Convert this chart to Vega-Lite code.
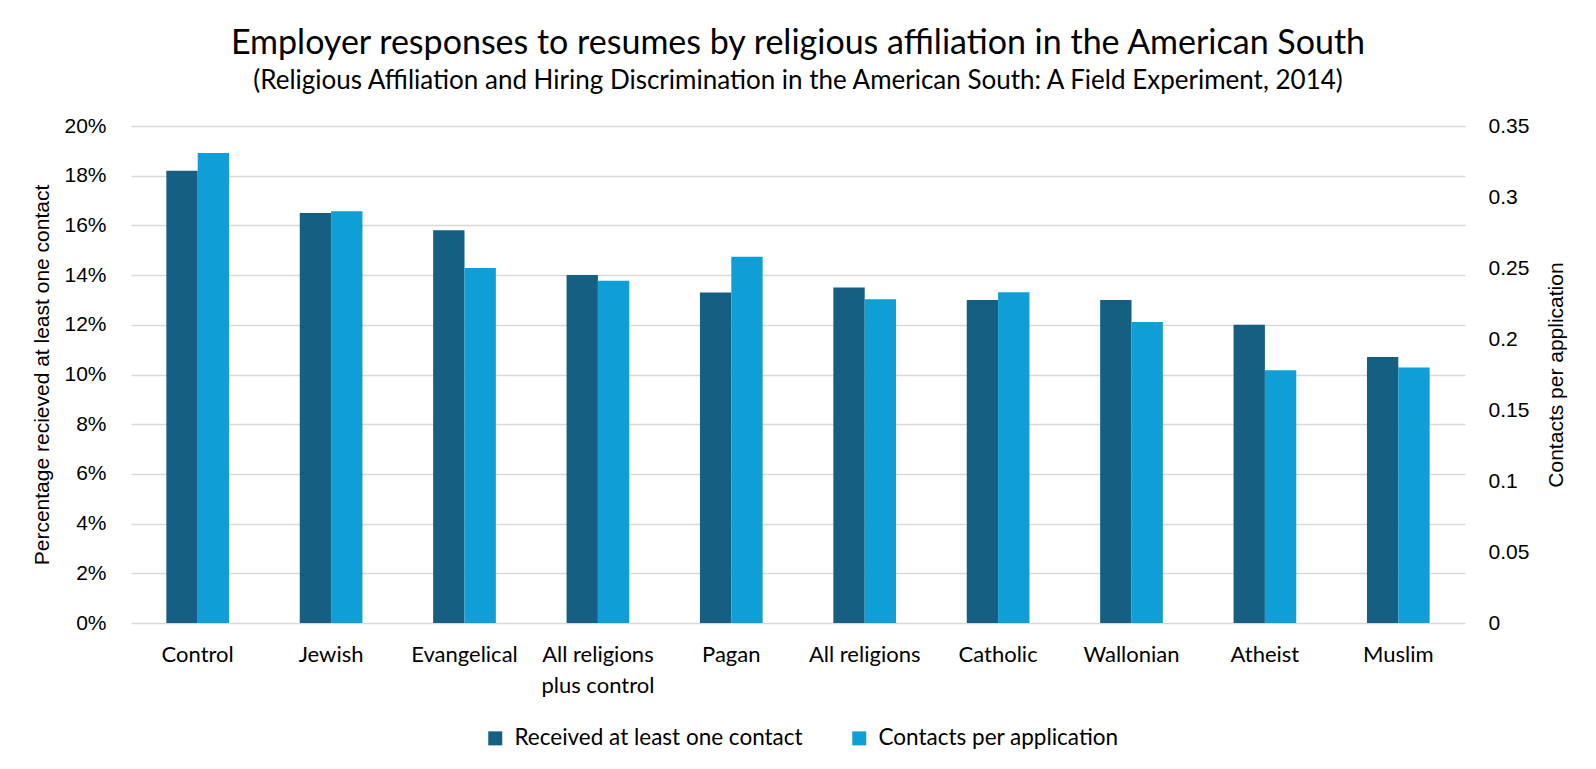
{
  "$schema": "https://vega.github.io/schema/vega-lite/v6.json",
  "width": 1334,
  "height": 497,
  "autosize": "none",
  "padding": {"left": 131, "top": 126, "right": 131, "bottom": 146},
  "background": "white",
  "config": {"view": {"stroke": null}},
  "title": {
    "text": "Employer responses to resumes by religious affiliation in the American South",
    "subtitle": "(Religious Affiliation and Hiring Discrimination in the American South: A Field Experiment, 2014)",
    "font": "Lato",
    "fontSize": 34,
    "fontWeight": "normal",
    "color": "#000000",
    "subtitleFont": "Lato",
    "subtitleFontSize": 26,
    "subtitleColor": "#000000",
    "subtitlePadding": 7,
    "anchor": "middle",
    "frame": "group",
    "offset": 21
  },
  "data": {
    "values": [
      {"religion": "Control", "measure": "Received at least one contact", "value": 0.182},
      {"religion": "Control", "measure": "Contacts per application", "value": 0.331},
      {"religion": "Jewish", "measure": "Received at least one contact", "value": 0.165},
      {"religion": "Jewish", "measure": "Contacts per application", "value": 0.29},
      {"religion": "Evangelical", "measure": "Received at least one contact", "value": 0.158},
      {"religion": "Evangelical", "measure": "Contacts per application", "value": 0.25},
      {"religion": "All religions plus control", "measure": "Received at least one contact", "value": 0.14},
      {"religion": "All religions plus control", "measure": "Contacts per application", "value": 0.241},
      {"religion": "Pagan", "measure": "Received at least one contact", "value": 0.133},
      {"religion": "Pagan", "measure": "Contacts per application", "value": 0.258},
      {"religion": "All religions", "measure": "Received at least one contact", "value": 0.135},
      {"religion": "All religions", "measure": "Contacts per application", "value": 0.228},
      {"religion": "Catholic", "measure": "Received at least one contact", "value": 0.13},
      {"religion": "Catholic", "measure": "Contacts per application", "value": 0.233},
      {"religion": "Wallonian", "measure": "Received at least one contact", "value": 0.13},
      {"religion": "Wallonian", "measure": "Contacts per application", "value": 0.212},
      {"religion": "Atheist", "measure": "Received at least one contact", "value": 0.12},
      {"religion": "Atheist", "measure": "Contacts per application", "value": 0.178},
      {"religion": "Muslim", "measure": "Received at least one contact", "value": 0.107},
      {"religion": "Muslim", "measure": "Contacts per application", "value": 0.18}
    ]
  },
  "encoding": {
    "x": {
      "field": "religion",
      "type": "nominal",
      "sort": null,
      "scale": {"paddingInner": 0.53, "paddingOuter": 0.265},
      "axis": {
        "title": null,
        "labelAngle": 0,
        "labelFont": "Lato",
        "labelFontSize": 22,
        "labelColor": "#000000",
        "labelPadding": 21,
        "labelLineHeight": 31,
        "labelExpr": "datum.label == 'All religions plus control' ? ['All religions', 'plus control'] : datum.label",
        "ticks": false,
        "domain": false
      }
    },
    "xOffset": {
      "field": "measure",
      "type": "nominal",
      "scale": {"domain": ["Received at least one contact", "Contacts per application"], "paddingInner": 0}
    },
    "color": {
      "field": "measure",
      "type": "nominal",
      "scale": {
        "domain": ["Received at least one contact", "Contacts per application"],
        "range": ["#156082", "#0F9ED5"]
      },
      "legend": {
        "orient": "none",
        "legendX": 353,
        "legendY": 601,
        "direction": "horizontal",
        "title": null,
        "symbolType": "square",
        "symbolSize": 196,
        "symbolStrokeWidth": 0,
        "labelFont": "Lato",
        "labelFontSize": 22.5,
        "labelColor": "#000000",
        "labelOffset": 8,
        "labelLimit": 500,
        "columnPadding": 45
      }
    }
  },
  "layer": [
    {
      "transform": [{"filter": "datum.measure === 'Received at least one contact'"}],
      "mark": "bar",
      "encoding": {
        "y": {
          "field": "value",
          "type": "quantitative",
          "scale": {"domain": [0, 0.2]},
          "axis": {
            "values": [0, 0.02, 0.04, 0.06, 0.08, 0.1, 0.12, 0.14, 0.16, 0.18, 0.2],
            "format": ".0%",
            "title": "Percentage recieved at least one contact",
            "titleFont": "Liberation Sans",
            "titleFontSize": 21,
            "titleFontWeight": "normal",
            "titleColor": "#000000",
            "titlePadding": 11,
            "labelFont": "Liberation Sans",
            "labelFontSize": 21,
            "labelColor": "#000000",
            "labelPadding": 25,
            "minExtent": 68,
            "maxExtent": 68,
            "ticks": false,
            "domain": false,
            "grid": true,
            "gridColor": "#D9D9D9",
            "gridWidth": 1.5
          }
        }
      }
    },
    {
      "transform": [{"filter": "datum.measure === 'Contacts per application'"}],
      "mark": "bar",
      "encoding": {
        "y": {
          "field": "value",
          "type": "quantitative",
          "scale": {"domain": [0, 0.35]},
          "axis": {
            "orient": "right",
            "values": [0, 0.05, 0.1, 0.15, 0.2, 0.25, 0.3, 0.35],
            "format": ".2~f",
            "title": "Contacts per application",
            "titleAngle": 270,
            "titleBaseline": "top",
            "titleFont": "Liberation Sans",
            "titleFontSize": 21,
            "titleFontWeight": "normal",
            "titleColor": "#000000",
            "titlePadding": 12,
            "labelFont": "Liberation Sans",
            "labelFontSize": 21,
            "labelColor": "#000000",
            "labelPadding": 23,
            "minExtent": 68,
            "maxExtent": 68,
            "ticks": false,
            "domain": false,
            "grid": false
          }
        }
      }
    }
  ],
  "resolve": {"scale": {"y": "independent"}}
}
